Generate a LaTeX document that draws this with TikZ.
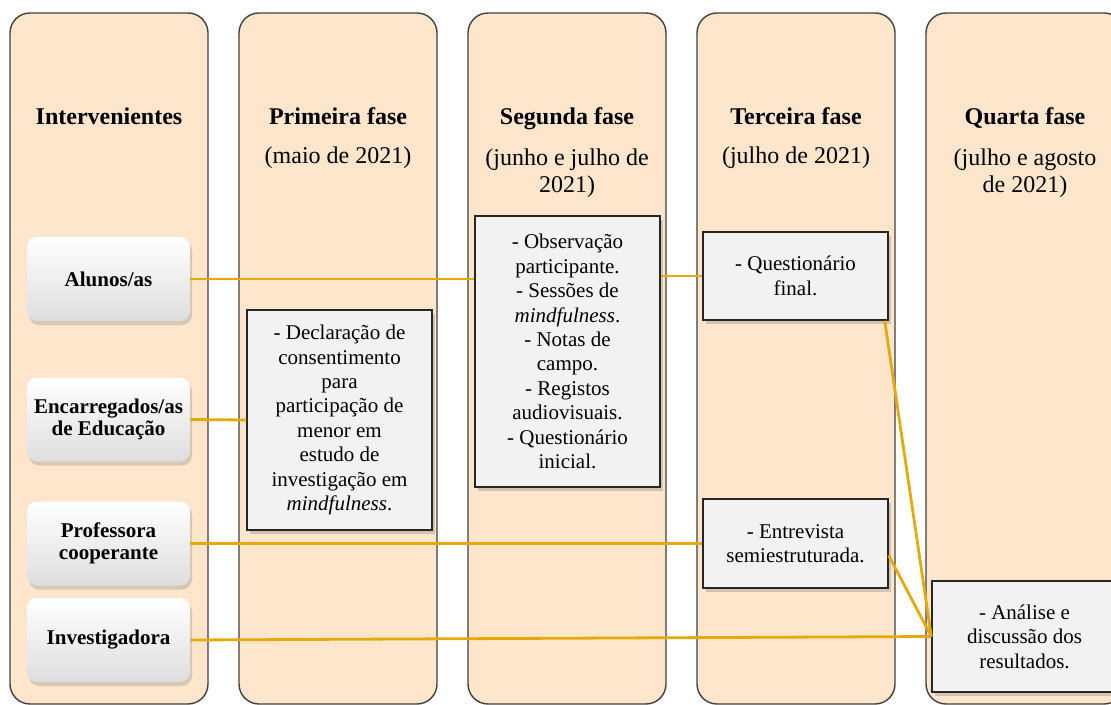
\documentclass[tikz,border=0pt]{standalone}
\usepackage{fontspec}
\setmainfont{Liberation Serif}
\usetikzlibrary{positioning,shadows}
\definecolor{peach}{RGB}{253,230,204}
\definecolor{boxgray}{RGB}{242,242,242}
\definecolor{linkgold}{RGB}{228,170,10}
\definecolor{framegray}{RGB}{64,64,64}
\begin{document}
\begin{tikzpicture}[
    x=0.5pt, y=-0.5pt,
    phase/.style={draw=framegray, line width=0.7pt, fill=peach, rounded corners=10pt,
      minimum width=99pt, minimum height=345.5pt, inner sep=0pt},
    title/.style={font=\fontsize{12}{13.5}\selectfont\bfseries, anchor=base, inner sep=0pt},
    period/.style={font=\fontsize{12}{13.5}\selectfont, anchor=base, align=center, inner sep=0pt},
    actor/.style={rounded corners=5pt, top color=white, bottom color=black!13,
      drop shadow={opacity=0.3, shadow xshift=1pt, shadow yshift=-2pt},
      minimum width=81.5pt, minimum height=42pt, align=center, inner sep=1pt,
      font=\fontsize{10.5}{11}\selectfont\bfseries},
    task/.style={draw=black!85, line width=0.7pt, fill=boxgray,
      drop shadow={opacity=0.35, shadow xshift=1.5pt, shadow yshift=-2pt},
      minimum width=92.5pt, align=center, inner sep=2pt,
      font=\fontsize{10.5}{12.2}\selectfont},
    link/.style={draw=linkgold, line width=1.4pt}
]
\useasboundingbox (0,0) rectangle (1111,705);

% columns
\node[phase] (c1) at (109,358.5) {};
\node[phase] (c2) at (338,358.5) {};
\node[phase] (c3) at (567,358.5) {};
\node[phase] (c4) at (796,358.5) {};
\node[phase] (c5) at (1025,358.5) {};

% headers
\node[title] (t1) at (109,125) {Intervenientes};
\node[title] (t2) at (338,125) {Primeira fase};
\node[period] (d2) at (338,164) {(maio de 2021)};
\node[title] (t3) at (567,125) {Segunda fase};
\node[period] (d3) at (567,193) {(junho e julho de\\2021)};
\node[title] (t4) at (796,125) {Terceira fase};
\node[period] (d4) at (796,164) {(julho de 2021)};
\node[title] (t5) at (1025,125) {Quarta fase};
\node[period] (d5) at (1025,193) {(julho e agosto\\de 2021)};

% actors
\node[actor] (alunos) at (108.5,279) {Alunos/as};
\node[actor] (pais) at (108.5,419.5) {Encarregados/as\\de Educação};
\node[actor] (prof) at (108.5,543.5) {Professora\\cooperante};
\node[actor] (inv) at (108.5,640) {Investigadora};

% tasks
\node[task, minimum height=110pt] (f1) at (339.5,420)
  {- Declaração de\\consentimento\\para\\participação de\\menor em\\estudo de\\investigação em\\\textit{mindfulness}.};
\node[task, minimum height=135.5pt] (f2) at (567.5,351.5)
  {- Observação\\participante.\\- Sessões de\\\textit{mindfulness}.\\- Notas de\\campo.\\- Registos\\audiovisuais.\\- Questionário\\inicial.};
\node[task, minimum height=44pt] (f3a) at (795.5,276) {- Questionário\\final.};
\node[task, minimum height=44.5pt] (f3b) at (795.5,543.5) {- Entrevista\\semiestruturada.};
\node[task, minimum height=55.5pt] (f4) at (1024.5,636.5) {- Análise e\\discussão dos\\resultados.};

% links
\draw[link] (alunos.east) -- (alunos.east -| f2.west);
\draw[link] (f2.east |- f3a.west) -- (f3a.west);
\draw[link] (pais.east) -- (f1.west);
\draw[link] (prof.east) -- (f3b.west);
\draw[link] (inv.east) -- (f4.west);
\draw[link] ([xshift=-2pt]f3a.south east) -- (f4.west);
\draw[link] ([yshift=-6pt]f3b.east) -- (f4.west);
\end{tikzpicture}
\end{document}
